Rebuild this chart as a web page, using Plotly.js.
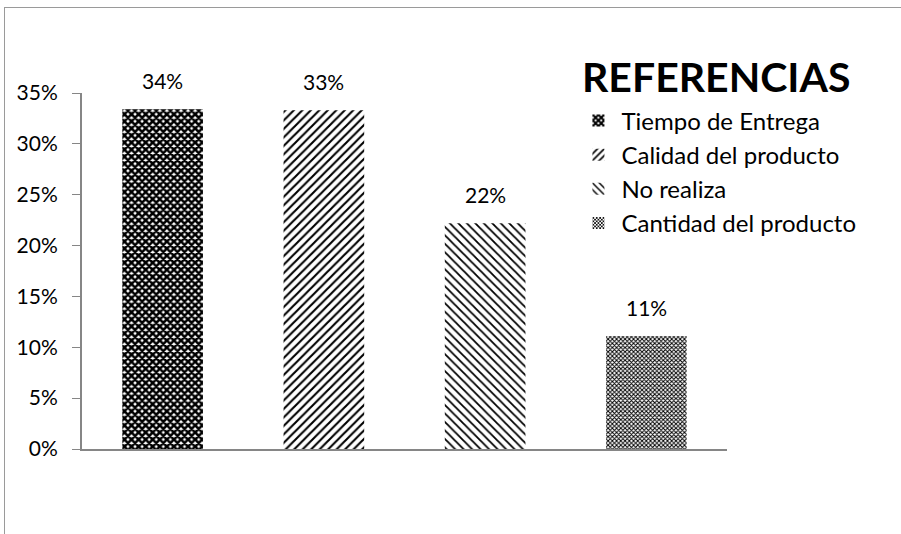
<!DOCTYPE html>
<html>
<head>
<meta charset="utf-8">
<script src="https://cdn.plot.ly/plotly-3.0.1.min.js"></script>
<style>
html,body{margin:0;padding:0;background:#fff;}
#wrap{position:relative;width:901px;height:534px;overflow:hidden;}
#chart{position:absolute;left:0;top:0;width:901px;height:534px;}
#frame{position:absolute;left:4px;top:7px;width:1000px;height:600px;border-left:1px solid #9a9a9a;border-top:1px solid #9a9a9a;pointer-events:none;}
</style>
</head>
<body>
<div id="wrap"><div id="chart"></div><div id="frame"></div></div>
<script>
const categories = ["Tiempo de Entrega", "Calidad del producto", "No realiza", "Cantidad del producto"];
const values = [0.334, 0.333, 0.222, 0.111];
const valueLabels = ["34%", "33%", "22%", "11%"];
const yTicks = [0, 0.05, 0.10, 0.15, 0.20, 0.25, 0.30, 0.35];
const yTickLabels = ["0%", "5%", "10%", "15%", "20%", "25%", "30%", "35%"];
const legendTitle = "REFERENCIAS";

const patterns = [
  {shape: "x", fgcolor: "#000", bgcolor: "#fff", size: 5, solidity: 0.75},
  {shape: "/", fgcolor: "#000", bgcolor: "#fff", size: 6, solidity: 0.35},
  {shape: "\\", fgcolor: "#000", bgcolor: "#fff", size: 6, solidity: 0.3},
  {shape: "x", fgcolor: "#000", bgcolor: "#fff", size: 3, solidity: 0.55}
];

const FONT = "Lato, 'Open Sans', 'Liberation Sans', sans-serif";

const traces = categories.map((c, i) => ({
  type: "bar",
  name: c,
  x: [c],
  y: [values[i]],
  width: 0.5,
  legendgroup: "g" + i,
  marker: {color: "#fff", line: {width: 0}, pattern: patterns[i]},
  hoverinfo: "none"
}));

const labelAnnotations = categories.map((c, i) => ({
  x: c, y: values[i], xref: "x", yref: "y",
  text: valueLabels[i], showarrow: false,
  yanchor: "bottom", yshift: 14,
  font: {family: FONT, size: 21, color: "#000"}
}));

const layout = {
  width: 901, height: 534,
  margin: {l: 82, r: 174, t: 93, b: 85},
  paper_bgcolor: "#fff", plot_bgcolor: "#fff",
  barmode: "overlay",
  font: {family: FONT, size: 21, color: "#000"},
  xaxis: {
    type: "category",
    categoryorder: "array", categoryarray: categories,
    showticklabels: false, ticks: "",
    showline: true, linecolor: "#868686", linewidth: 2,
    showgrid: false, zeroline: false, fixedrange: true
  },
  yaxis: {
    range: [0, 0.35],
    tickmode: "array", tickvals: yTicks, ticktext: yTickLabels,
    ticks: "outside", ticklen: 8, tickcolor: "#868686", tickwidth: 1,
    ticklabelstandoff: 10,
    showline: true, linecolor: "#868686", linewidth: 2,
    showgrid: false, zeroline: false,
    tickfont: {family: FONT, size: 21, color: "#000"},
    fixedrange: true
  },
  showlegend: true,
  legend: {
    x: 0.765, xanchor: "left", y: 0.985, yanchor: "top",
    font: {family: FONT, size: 24, color: "#000"},
    bgcolor: "rgba(0,0,0,0)",
    tracegroupgap: 0,
    itemwidth: 36
  },
  annotations: [{
    text: "<b>" + legendTitle + "</b>",
    xref: "paper", yref: "paper",
    x: 0.772, y: 1.045, xanchor: "left", yanchor: "middle",
    showarrow: false,
    font: {family: FONT, size: 41, color: "#000"}
  }].concat(labelAnnotations)
};

Plotly.newPlot("chart", traces, layout, {displayModeBar: false, staticPlot: true});
</script>
</body>
</html>
